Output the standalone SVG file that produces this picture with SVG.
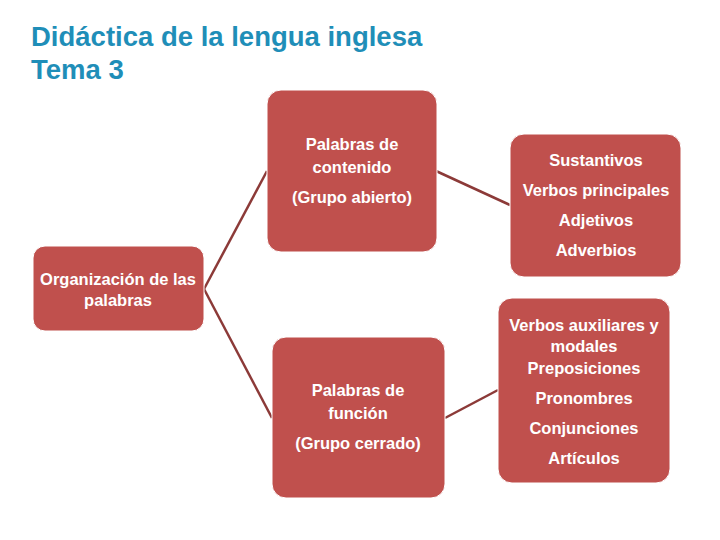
<svg xmlns="http://www.w3.org/2000/svg" width="720" height="540" viewBox="0 0 720 540">
<style>
.box{fill:#C0504D;stroke:#ffffff;stroke-width:1}
.t{font-family:"Liberation Sans",Arial,sans-serif;font-size:16.5px;font-weight:bold;fill:#ffffff;text-anchor:middle}
.title{font-family:"Liberation Sans",Arial,sans-serif;font-size:27.5px;font-weight:bold;fill:#1F8EB8}
.c{stroke:#8C3A38;stroke-width:2.5;fill:none}
</style>
<rect width="720" height="540" fill="#ffffff"/>
<text class="title" x="31" y="46">Didáctica de la lengua inglesa</text>
<text class="title" x="31" y="79">Tema 3</text>
<g id="connectors">
<line class="c" x1="204" y1="289" x2="267" y2="171"/>
<line class="c" x1="204" y1="289" x2="272" y2="418"/>
<line class="c" x1="436" y1="171" x2="510" y2="205"/>
<line class="c" x1="445" y1="418" x2="498" y2="390"/>
</g>
<g id="root">
<rect class="box" x="33" y="246" width="171" height="85" rx="12"/>
<text class="t" x="118" y="285">Organización de las</text>
<text class="t" x="118" y="306">palabras</text>
</g>
<g id="contenido">
<rect class="box" x="267" y="90" width="170" height="162" rx="14"/>
<text class="t" x="352" y="150">Palabras de</text>
<text class="t" x="352" y="173">contenido</text>
<text class="t" x="352" y="203">(Grupo abierto)</text>
</g>
<g id="funcion">
<rect class="box" x="272" y="337" width="173" height="161" rx="14"/>
<text class="t" x="358" y="396">Palabras de</text>
<text class="t" x="358" y="419">función</text>
<text class="t" x="358" y="449">(Grupo cerrado)</text>
</g>
<g id="abierto-lista">
<rect class="box" x="510" y="134" width="171" height="143" rx="14"/>
<text class="t" x="596" y="166">Sustantivos</text>
<text class="t" x="596" y="196">Verbos principales</text>
<text class="t" x="596" y="226">Adjetivos</text>
<text class="t" x="596" y="256">Adverbios</text>
</g>
<g id="cerrado-lista">
<rect class="box" x="498" y="298" width="172" height="185" rx="14"/>
<text class="t" x="584" y="331">Verbos auxiliares y</text>
<text class="t" x="584" y="352">modales</text>
<text class="t" x="584" y="374">Preposiciones</text>
<text class="t" x="584" y="404">Pronombres</text>
<text class="t" x="584" y="434">Conjunciones</text>
<text class="t" x="584" y="464">Artículos</text>
</g>
</svg>
